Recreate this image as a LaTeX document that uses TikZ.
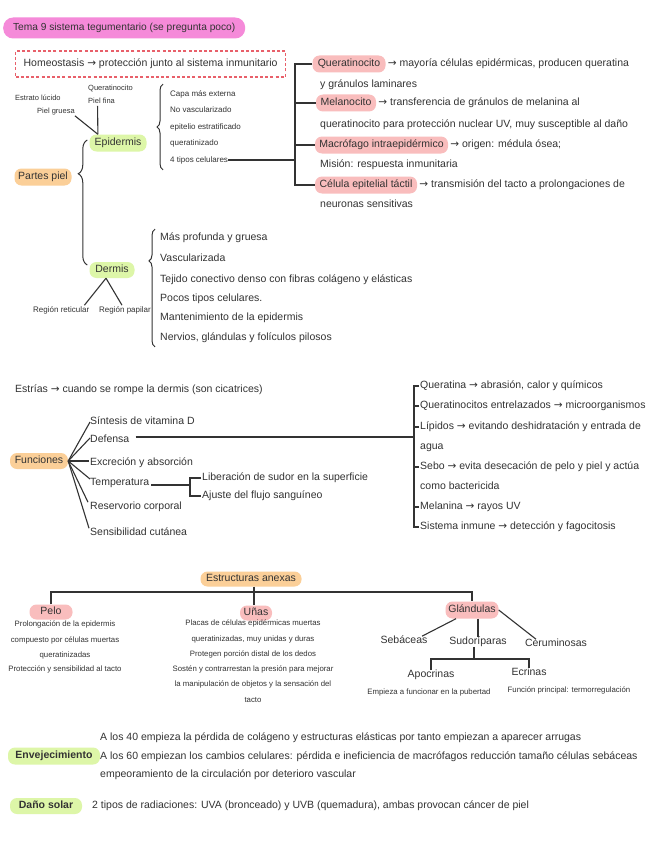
\documentclass[tikz,border=0pt]{standalone}
\usepackage{fontspec}
\setmainfont{Liberation Sans}
\newfontfamily\arrowfont{DejaVu Sans}
\newcommand{\myarrow}{{\arrowfont →}}
\usetikzlibrary{decorations.pathreplacing,calc}
\definecolor{ink}{HTML}{333333}
\definecolor{titlepink}{HTML}{F58AD9}
\definecolor{pinkhl}{HTML}{F9BDBD}
\definecolor{greenhl}{HTML}{DDF6A8}
\definecolor{orangehl}{HTML}{FBCF98}
\definecolor{dashred}{HTML}{E8606A}
\begin{document}
\begin{tikzpicture}[x=1pt,y=-1pt,
  every node/.style={inner sep=0pt, text=ink, text height=0.72em, text depth=0.2em},
  t/.style={anchor=west, font=\fontsize{10.5}{12}\selectfont},
  tc/.style={font=\fontsize{10.5}{12}\selectfont},
  s/.style={anchor=west, font=\fontsize{8}{9}\selectfont},
  sc/.style={font=\fontsize{7.8}{9}\selectfont},
  pill/.style={font=\fontsize{10.5}{12}\selectfont, rounded corners=7pt, minimum height=17pt},
  ln/.style={draw=ink, line width=1.1pt},
  brc/.style={draw=ink, line width=1pt, decorate},
]
\useasboundingbox (0,0) rectangle (656,848);
\fill[white] (0,0) rectangle (656,848);

% title and homeostasis
\node[pill, fill=titlepink, rounded corners=10pt, minimum height=21pt, minimum width=242pt, anchor=west, font=\fontsize{10.2}{12}\selectfont] (title) at (3,28) {Tema 9 sistema tegumentario (se pregunta poco)};
\node[draw=dashred, line width=1.2pt, dash pattern=on 3pt off 2.2pt, minimum height=26pt, minimum width=270pt, anchor=west, font=\fontsize{10.5}{12}\selectfont] (homeo) at (15,64) {Homeostasis \myarrow\ protección junto al sistema inmunitario};

% cell types
\coordinate (bx) at (295,0);
\node[pill, fill=pinkhl, minimum width=73pt] (qk) at (349,64) {Queratinocito};
\node[t] (qkt) at ([xshift=2pt]qk.east) {\myarrow\ mayoría células epidérmicas, producen queratina};
\node[t] (qk2) at (320,85) {y gránulos laminares};
\node[pill, fill=pinkhl, minimum width=60pt] (mel) at (346,103) {Melanocito};
\node[t] (melt) at ([xshift=2pt]mel.east) {\myarrow\ transferencia de gránulos de melanina al};
\node[t] (mel2) at (320,125) {queratinocito para protección nuclear UV, muy susceptible al daño};
\node[pill, fill=pinkhl, minimum width=133pt] (mac) at (381.5,145) {Macrófago intraepidérmico};
\node[t] (mact) at ([xshift=2pt]mac.east) {\myarrow\ origen: médula ósea;};
\node[t] (mac2) at (320,165) {Misión: respuesta inmunitaria};
\node[pill, fill=pinkhl, minimum width=102pt] (cel) at (366,185) {Célula epitelial táctil};
\node[t] (celt) at ([xshift=2pt]cel.east) {\myarrow\ transmisión del tacto a prolongaciones de};
\node[t] (cel2) at (320,205) {neuronas sensitivas};
\draw[ln] (qk.west) -- (qk.west -| bx) -- (cel.west -| bx) -- (cel.west);
\draw[ln] (mel.west) -- (mel.west -| bx);
\draw[ln] (mac.west) -- (mac.west -| bx);

% epidermis
\node[s, font=\fontsize{7.5}{9}\selectfont] (el) at (15,98) {Estrato lúcido};
\node[s, font=\fontsize{7.5}{9}\selectfont] (pg) at (37,111) {Piel gruesa};
\node[s, font=\fontsize{7.5}{9}\selectfont] (qt) at (88,88) {Queratinocito};
\node[s, font=\fontsize{7.5}{9}\selectfont] (pf) at (88,101) {Piel fina};
\node[pill, fill=greenhl, minimum width=57pt] (epi) at (118,143) {Epidermis};
\coordinate (epitop) at ($(epi.north west)!0.15!(epi.north east)$);
\draw[ln] (pg.south east) -- (epitop);
\draw[ln] ([xshift=-4pt]pf.south) -- (epitop);
\node[s] (e1) at (170,94) {Capa más externa};
\node[s] (e2) at (170,110) {No vascularizado};
\node[s] (e3) at (170,127) {epitelio estratificado};
\node[s] (e4) at (170,143) {queratinizado};
\node[s] (e5) at (170,160) {4 tipos celulares};
\draw[brc, decoration={brace, amplitude=6pt}] ([xshift=-7pt,yshift=-5pt]e5.south west) -- ([xshift=-7pt,yshift=5pt]e1.north west);
\draw[ln] (e5.east) -- (e5.east -| bx);

% partes piel
\node[pill, fill=orangehl, minimum width=57pt] (pp) at (43,177) {Partes piel};
\node[pill, fill=greenhl, minimum width=45pt, minimum height=16pt] (der) at (112,270) {Dermis};
\draw[brc, decoration={brace, amplitude=9pt, aspect=0.73}] ([xshift=-2pt,yshift=5pt]der.west) -- ([xshift=-2pt,yshift=3pt]epi.west);
\node[s] (rr) at (33,310) {Región reticular};
\node[s] (rp) at (99,310) {Región papilar};
\draw[ln] ([xshift=-6pt]der.south) -- ([xshift=-5pt]rr.north east);
\draw[ln] ([xshift=-6pt]der.south) -- ([xshift=23pt]rp.north west);
\node[t] (m1) at (160,238) {Más profunda y gruesa};
\node[t] (m2) at (160,259) {Vascularizada};
\node[t] (m3) at (160,280) {Tejido conectivo denso con fibras colágeno y elásticas};
\node[t] (m4) at (160,299) {Pocos tipos celulares.};
\node[t] (m5) at (160,318) {Mantenimiento de la epidermis};
\node[t] (m6) at (160,338) {Nervios, glándulas y folículos pilosos};
\draw[brc, decoration={brace, amplitude=6pt, aspect=0.73}] ([xshift=-5pt,yshift=-4pt]m6.south west) -- ([xshift=-5pt,yshift=4pt]m1.north west);

% estrias
\node[t] (est) at (15,390) {Estrías \myarrow\ cuando se rompe la dermis (son cicatrices)};

% funciones
\node[pill, fill=orangehl, minimum width=58pt, minimum height=16pt] (fun) at (39,461) {Funciones};
\node[t] (f1) at (90,422) {Síntesis de vitamina D};
\node[t] (f2) at (90,440) {Defensa};
\node[t] (f3) at (90,463) {Excreción y absorción};
\node[t] (f4) at (90,483) {Temperatura};
\node[t] (f5) at (90,507) {Reservorio corporal};
\node[t] (f6) at (90,533) {Sensibilidad cutánea};
\draw[ln] (fun.east) -- (f1.west);
\draw[ln] (fun.east) -- ([yshift=2pt]f2.west);
\draw[ln] (fun.east) -- ([xshift=-1pt,yshift=2pt]f3.west);
\draw[ln] (fun.east) -- ([yshift=4pt]f4.west);
\draw[ln] (fun.east) -- ([xshift=-2pt]f5.north west);
\draw[ln] (fun.east) -- ([xshift=-1pt]f6.north west);

% defensa list
\coordinate (dbx) at (414,0);
\node[t] (d1) at (420,386) {Queratina \myarrow\ abrasión, calor y químicos};
\node[t] (d2) at (420,406) {Queratinocitos entrelazados \myarrow\ microorganismos};
\node[t] (d3) at (420,427) {Lípidos \myarrow\ evitando deshidratación y entrada de};
\node[t] (d4) at (420,447) {agua};
\node[t] (d5) at (420,467) {Sebo \myarrow\ evita desecación de pelo y piel y actúa};
\node[t] (d6) at (420,487) {como bactericida};
\node[t] (d7) at (420,507) {Melanina \myarrow\ rayos UV};
\node[t] (d8) at (420,527) {Sistema inmune \myarrow\ detección y fagocitosis};
\draw[ln] ([xshift=-1pt]d1.west) -- (d1.west -| dbx) -- (d8.west -| dbx) -- ([xshift=-1pt]d8.west);
\draw[ln] ([xshift=-1pt]d2.west) -- (d2.west -| dbx);
\draw[ln] ([xshift=-1pt]d3.west) -- (d3.west -| dbx);
\draw[ln] ([xshift=-1pt]d5.west) -- (d5.west -| dbx);
\draw[ln] ([xshift=-1pt]d7.west) -- (d7.west -| dbx);
\draw[ln] ([xshift=6pt,yshift=3pt]f2.east) -- ([yshift=3pt]f2.east -| dbx);

% temperatura
\coordinate (tbx) at (190,0);
\node[t] (l1) at (202,478) {Liberación de sudor en la superficie};
\node[t] (l2) at (202,496) {Ajuste del flujo sanguíneo};
\draw[ln] ([xshift=2pt,yshift=-2pt]f4.east) -- ([yshift=-2pt]f4.east -| tbx);
\draw[ln] ([xshift=-1pt]l1.west) -- (l1.west -| tbx) -- (l2.west -| tbx) -- ([xshift=-1pt]l2.west);

% estructuras anexas
\node[pill, fill=orangehl, minimum width=101pt, minimum height=15pt] (ea) at (251,579) {Estructuras anexas};
\coordinate (hl) at (51,592);
\node[pill, fill=pinkhl, minimum width=43pt, minimum height=15pt] (pelo) at (51,612) {Pelo};
\node[pill, fill=pinkhl, minimum width=32pt, minimum height=15pt] (unas) at (256,613) {Uñas};
\node[pill, fill=pinkhl, minimum width=53pt, minimum height=17pt] (gla) at (472,610) {Glándulas};
\draw[ln] (pelo.north) -- (pelo.north |- hl) -- (gla.north |- hl) -- (gla.north);
\draw[ln] ([xshift=3pt]ea.south) -- ([xshift=3pt]ea.south |- unas.north);

\foreach \yy/\tx [count=\i] in {624/{Prolongación de la epidermis}, 640/{compuesto por células muertas}, 655/{queratinizadas}, 669/{Protección y sensibilidad al tacto}}
  \node[sc] (pl\i) at (65,\yy) {\tx};
\foreach \yy/\tx [count=\i] in {623/{Placas de células epidérmicas muertas}, 639/{queratinizadas, muy unidas y duras}, 654/{Protegen porción distal de los dedos}, 669/{Sostén y contrarrestan la presión para mejorar}, 684/{la manipulación de objetos y la sensación del}, 700/{tacto}}
  \node[sc] (ul\i) at (253,\yy) {\tx};

\node[tc] (seb) at (404,641) {Sebáceas};
\node[tc] (sud) at (478,642) {Sudoríparas};
\node[tc] (cer) at (556,644) {Ceruminosas};
\draw[ln] ([xshift=-16pt]gla.south) -- ([xshift=18pt]seb.north);
\draw[ln] (gla.south -| sud.north) -- (sud.north);
\draw[ln] (gla.east) -- ([xshift=-20pt]cer.north);
\coordinate (sj) at (474,659);
\node[tc] (apo) at (431,675) {Apocrinas};
\node[tc] (ecr) at (529,673) {Ecrinas};
\draw[ln] ([xshift=-4pt]sud.south) -- ([xshift=-4pt]sud.south |- sj);
\draw[ln] (apo.north) -- (apo.north |- sj) -- (ecr.north |- sj) -- (ecr.north);
\node[sc] (apod) at (429,692) {Empieza a funcionar en la pubertad};
\node[sc] (ecrd) at (569,690) {Función principal: termorregulación};

% envejecimiento
\node[pill, fill=greenhl, minimum width=92pt, font=\fontsize{10.5}{12}\selectfont\bfseries] (env) at (54,756) {Envejecimiento};
\node[t] (v1) at (100,738) {A los 40 empieza la pérdida de colágeno y estructuras elásticas por tanto empiezan a aparecer arrugas};
\node[t] (v2) at (100,757) {A los 60 empiezan los cambios celulares: pérdida e ineficiencia de macrófagos reducción tamaño células sebáceas};
\node[t] (v3) at (100,775) {empeoramiento de la circulación por deterioro vascular};

% dano solar
\node[pill, fill=greenhl, minimum width=72pt, minimum height=16pt, font=\fontsize{10.5}{12}\selectfont\bfseries] (dano) at (46,806) {Daño solar};
\node[t] (ds) at (92,806) {2 tipos de radiaciones: UVA (bronceado) y UVB (quemadura), ambas provocan cáncer de piel};
\end{tikzpicture}
\end{document}
